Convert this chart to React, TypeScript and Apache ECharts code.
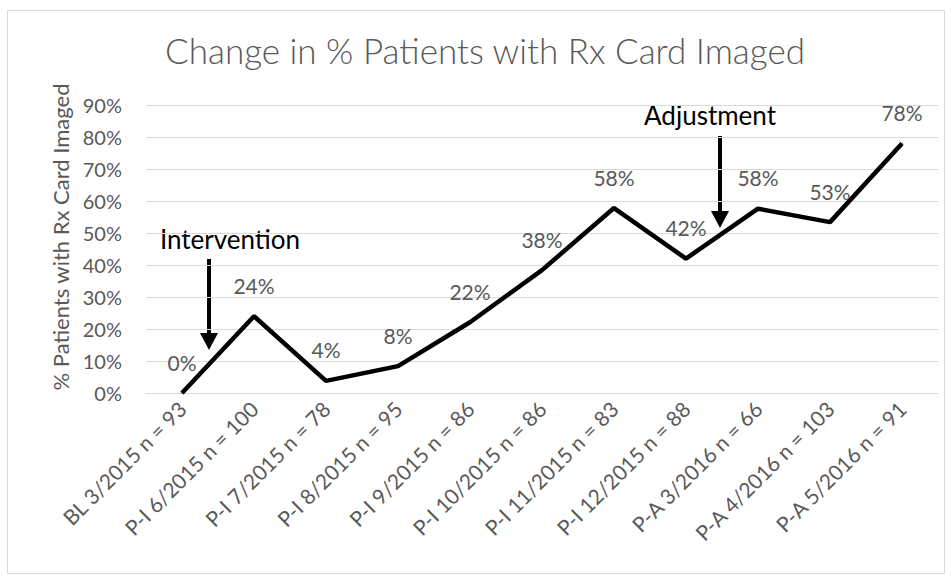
import React, { useEffect, useRef } from "react";
import * as echarts from "echarts";

const categories = [
  "BL 3/2015 n = 93",
  "P-I 6/2015 n = 100",
  "P-I 7/2015 n = 78",
  "P-I 8/2015 n = 95",
  "P-I 9/2015 n = 86",
  "P-I 10/2015 n = 86",
  "P-I 11/2015 n = 83",
  "P-I 12/2015 n = 88",
  "P-A 3/2016 n = 66",
  "P-A 4/2016 n = 103",
  "P-A 5/2016 n = 91",
];
const percentImaged = [0, 24, 3.8, 8.4, 22.1, 38.4, 57.8, 42.0, 57.6, 53.4, 78.0];
const titleText = "Change in % Patients with Rx Card Imaged";
const yAxisTitle = "% Patients with Rx Card Imaged";
const annotations = [
  { text: "Intervention", textX: 230, textY: 239, arrowX: 209, arrowTop: 259, arrowTip: 350 },
  { text: "Adjustment", textX: 710, textY: 115, arrowX: 720, arrowTop: 136, arrowTip: 228 },
];

const FONT = "Lato, 'Open Sans', sans-serif";
const GREY = "#595959";

export default function App() {
  const ref = useRef<HTMLDivElement>(null);
  useEffect(() => {
    if (!ref.current) return;
    const chart = echarts.init(ref.current, undefined, { renderer: "svg" });
    const graphics: any[] = [
      {
        type: "rect",
        shape: { x: 7.5, y: 10.5, width: 937, height: 563 },
        style: { fill: "none", stroke: "#D9D9D9", lineWidth: 1 },
        silent: true,
        z: -1,
      },
    ];
    annotations.forEach((a) => {
      graphics.push({
        type: "text",
        x: a.textX,
        y: a.textY,
        style: {
          text: a.text,
          font: `26px ${FONT}`,
          fill: "#000",
          align: "center",
          verticalAlign: "middle",
        },
      });
      graphics.push({
        type: "line",
        shape: { x1: a.arrowX, y1: a.arrowTop, x2: a.arrowX, y2: a.arrowTip - 14 },
        style: { stroke: "#000", lineWidth: 4 },
      });
      graphics.push({
        type: "polygon",
        shape: {
          points: [
            [a.arrowX - 9, a.arrowTip - 17],
            [a.arrowX + 9, a.arrowTip - 17],
            [a.arrowX, a.arrowTip],
          ],
        },
        style: { fill: "#000" },
      });
    });
    chart.setOption({
      animation: false,
      backgroundColor: "#fff",
      title: {
        text: titleText,
        left: 480,
        top: 27,
        textAlign: "center",
        textStyle: { fontFamily: FONT, fontSize: 35, fontWeight: 300, color: GREY },
      },
      grid: { left: 146, right: 14, top: 105, bottom: 187 },
      xAxis: {
        type: "category",
        data: categories,
        boundaryGap: true,
        axisLine: { show: true, lineStyle: { color: "#D9D9D9", width: 1 } },
        axisTick: { show: false },
        axisLabel: {
          rotate: 45,
          interval: 0,
          margin: 12,
          fontFamily: FONT,
          fontSize: 21,
          color: GREY,
        },
      },
      yAxis: {
        type: "value",
        min: 0,
        max: 90,
        interval: 10,
        name: yAxisTitle,
        nameLocation: "middle",
        nameGap: 74,
        nameTextStyle: { fontFamily: FONT, fontSize: 22, color: GREY, padding: [0, 0, 0, 24] },
        axisLine: { show: false },
        axisTick: { show: false },
        splitLine: { lineStyle: { color: "#D9D9D9", width: 1 } },
        axisLabel: {
          formatter: (v: number) => `${v}%`,
          fontFamily: FONT,
          fontSize: 20,
          color: GREY,
          margin: 24,
        },
      },
      series: [
        {
          type: "line",
          data: percentImaged,
          showSymbol: true,
          symbol: "circle",
          symbolSize: 1,
          itemStyle: { color: "#000" },
          lineStyle: { color: "#000", width: 4.5 },
          label: {
            show: true,
            position: "top",
            distance: 20,
            formatter: (p: any) => `${Math.round(p.value)}%`,
            fontFamily: FONT,
            fontSize: 21,
            color: GREY,
          },
        },
      ],
      graphic: graphics,
    });
    return () => chart.dispose();
  }, []);
  return (
    <div
      ref={ref}
      style={{ position: "absolute", left: 0, top: 0, width: 952, height: 580 }}
    />
  );
}
